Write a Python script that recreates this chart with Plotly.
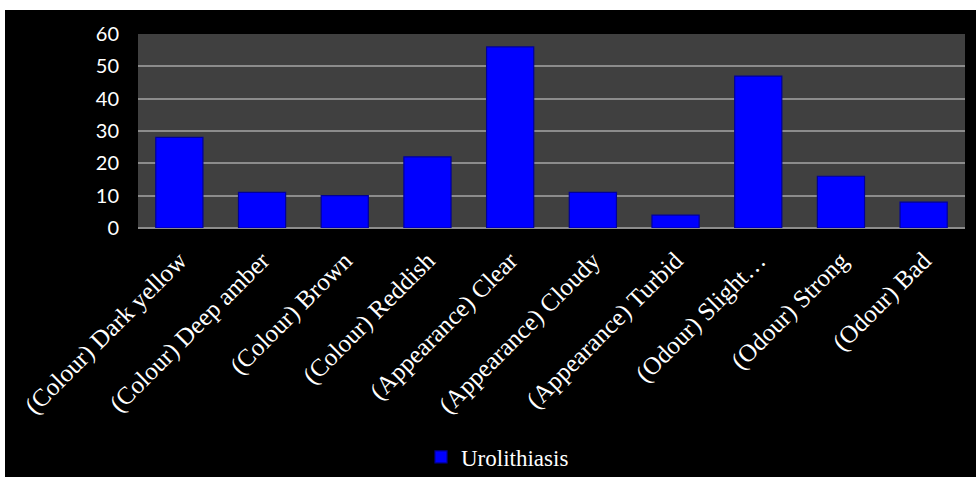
import plotly.graph_objects as go

# Urine characteristics of urolithiasis cases
categories = [
    "(Colour) Dark yellow",
    "(Colour) Deep amber",
    "(Colour) Brown",
    "(Colour) Reddish",
    "(Appearance) Clear",
    "(Appearance) Cloudy",
    "(Appearance) Turbid",
    "(Odour) Slight…",
    "(Odour) Strong",
    "(Odour) Bad",
]
urolithiasis = [28, 11, 10, 22, 56, 11, 4, 47, 16, 8]
y_ticks = [0, 10, 20, 30, 40, 50, 60]

W, H = 976, 477
ML, MR, MT, MB = 138, 11, 34, 249
pw, ph = W - ML - MR, H - MT - MB


def px_x(p):
    return (p - ML) / pw


def px_y(p):
    return (H - MB - p) / ph


fig = go.Figure(
    go.Bar(
        x=categories,
        y=urolithiasis,
        name="Urolithiasis",
        marker=dict(color="#0000FF", line=dict(color="#00009A", width=1.2)),
    )
)

fig.update_layout(
    width=W,
    height=H,
    margin=dict(l=ML, r=MR, t=MT, b=MB, autoexpand=False),
    paper_bgcolor="#000000",
    plot_bgcolor="#404040",
    bargap=0.43,
    showlegend=True,
    legend=dict(
        orientation="h",
        x=px_x(421),
        xanchor="left",
        y=px_y(457),
        yanchor="middle",
        font=dict(family="Liberation Serif", size=23, color="#FFFFFF"),
        bgcolor="rgba(0,0,0,0)",
    ),
    xaxis=dict(
        tickangle=-45,
        tickfont=dict(family="Liberation Serif", size=25, color="#FFFFFF"),
        showgrid=False,
        showline=False,
        zeroline=False,
        ticks="",
        automargin=False,
        ticklabelstandoff=12,
    ),
    yaxis=dict(
        range=[0, 60],
        tickvals=y_ticks,
        tickfont=dict(family="Lato", size=20, color="#FFFFFF"),
        showgrid=True,
        gridcolor="#8C8C8C",
        gridwidth=1.6,
        zeroline=True,
        zerolinecolor="#8C8C8C",
        zerolinewidth=1.6,
        showline=False,
        ticks="",
        automargin=False,
        ticklabelstandoff=18,
    ),
    shapes=[
        # white frame strips along the top and left edges of the page
        dict(type="rect", xref="paper", yref="paper",
             x0=px_x(-2), x1=px_x(W + 2), y0=px_y(10), y1=px_y(-2),
             fillcolor="#FFFFFF", line=dict(width=0), layer="above"),
        dict(type="rect", xref="paper", yref="paper",
             x0=px_x(-2), x1=px_x(5), y0=px_y(H + 2), y1=px_y(-2),
             fillcolor="#FFFFFF", line=dict(width=0), layer="above"),
    ],
)

fig.write_html("out.html")
